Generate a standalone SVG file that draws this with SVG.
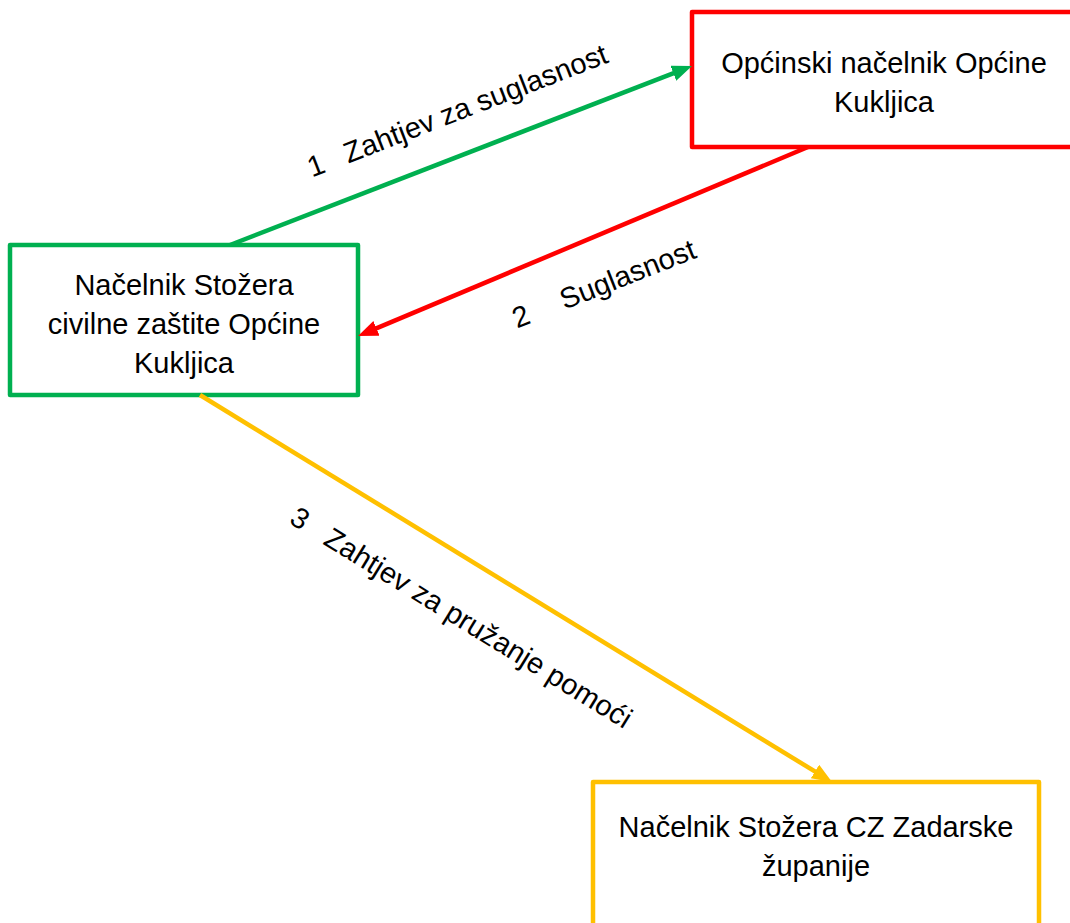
<svg xmlns="http://www.w3.org/2000/svg" width="1070" height="923" viewBox="0 0 1070 923">
<style>
  .box { fill: #FFFFFF; stroke-width: 4.5; stroke-linejoin: round; }
  .t { font-family: "Liberation Sans", Arial, sans-serif; font-size: 29px; fill: #000000; }
  .c { text-anchor: middle; }
  .ln { fill: none; stroke-width: 4.5; }
</style>
<defs>
  <marker id="ag" markerUnits="userSpaceOnUse" markerWidth="22" markerHeight="18" refX="8" refY="8" orient="auto">
    <path d="M0,0 L20,8 L0,16 z" fill="#00B050"/>
  </marker>
  <marker id="ar" markerUnits="userSpaceOnUse" markerWidth="22" markerHeight="18" refX="8" refY="8" orient="auto">
    <path d="M0,0 L20,8 L0,16 z" fill="#FF0000"/>
  </marker>
  <marker id="ay" markerUnits="userSpaceOnUse" markerWidth="22" markerHeight="18" refX="8" refY="8" orient="auto">
    <path d="M0,0 L20,8 L0,16 z" fill="#FFC000"/>
  </marker>
</defs>
<rect width="1070" height="923" fill="#FFFFFF"/>

<g id="node-opcinski">
  <rect class="box" x="692" y="12" width="384" height="135" stroke="#FF0000"/>
  <text class="t c" x="884" y="73">Općinski načelnik Općine</text>
  <text class="t c" x="884" y="112">Kukljica</text>
</g>

<g id="node-stozer">
  <rect class="box" x="10" y="245" width="348" height="150" stroke="#00B050"/>
  <text class="t c" x="184" y="295">Načelnik Stožera</text>
  <text class="t c" x="184" y="334">civilne zaštite Općine</text>
  <text class="t c" x="184" y="373">Kukljica</text>
</g>

<g id="node-zupanija">
  <rect class="box" x="593" y="782" width="446" height="150" stroke="#FFC000"/>
  <text class="t c" x="816" y="837">Načelnik Stožera CZ Zadarske</text>
  <text class="t c" x="816" y="876">županije</text>
</g>

<g id="connectors">
  <line class="ln" x1="230" y1="245" x2="680.8" y2="70.3" stroke="#00B050" marker-end="url(#ag)"/>
  <line class="ln" x1="808" y1="147" x2="369.1" y2="331.4" stroke="#FF0000" marker-end="url(#ar)"/>
  <line class="ln" x1="200" y1="395" x2="821.8" y2="775.7" stroke="#FFC000" marker-end="url(#ay)"/>
</g>

<g id="labels">
  <g transform="translate(312,177.5) rotate(-21.2)">
    <text class="t" x="0" y="0">1</text>
    <text class="t" x="39" y="0">Zahtjev za suglasnost</text>
  </g>
  <g transform="translate(517,328.5) rotate(-21.5)">
    <text class="t" x="0" y="0">2</text>
    <text class="t" x="51" y="0">Suglasnost</text>
  </g>
  <g transform="translate(288,522.5) rotate(31.6)">
    <text class="t" x="0" y="0">3</text>
    <text class="t" x="40" y="0">Zahtjev za pružanje pomoći</text>
  </g>
</g>
</svg>
